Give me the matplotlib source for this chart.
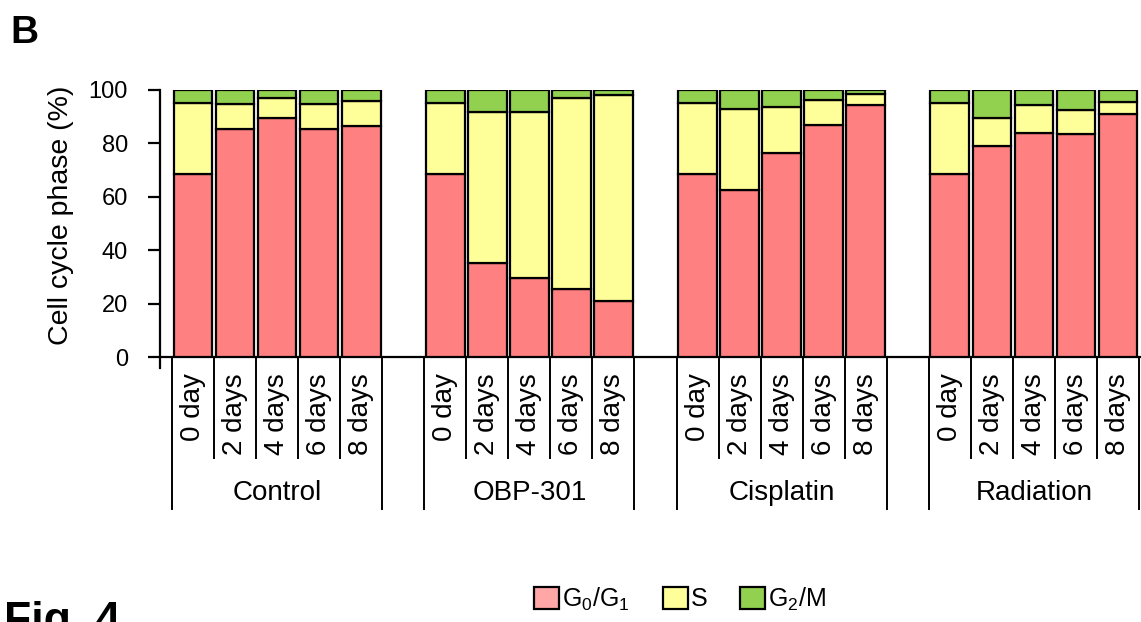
import matplotlib
matplotlib.use("Agg")
import matplotlib.pyplot as plt
import numpy as np
from matplotlib.patches import Patch
from matplotlib.transforms import blended_transform_factory

plt.rcParams["font.family"] = ["Liberation Sans", "DejaVu Sans"]
plt.rcParams["mathtext.fontset"] = "custom"
plt.rcParams["mathtext.rm"] = "Liberation Sans"
plt.rcParams["mathtext.it"] = "Liberation Sans:italic"

days = ["0 day", "2 days", "4 days", "6 days", "8 days"]
groups = ["Control", "OBP-301", "Cisplatin", "Radiation"]

# percent of cells in each phase, one row per treatment
g0g1 = [[68.6, 85.5, 89.5, 85.5, 86.5],
        [68.6, 35.3, 29.7, 25.6, 21.1],
        [68.6, 62.6, 76.5, 87.0, 94.3],
        [68.6, 79.2, 84.0, 83.7, 91.1]]
s_phase = [[26.4, 9.1, 7.4, 9.1, 9.3],
           [26.4, 56.4, 62.0, 71.4, 77.2],
           [26.4, 30.4, 17.3, 9.4, 4.2],
           [26.4, 10.5, 10.4, 8.7, 4.4]]
g2m = [[5.0, 5.4, 3.1, 5.4, 4.2],
       [5.0, 8.3, 8.3, 3.0, 1.7],
       [5.0, 7.0, 6.2, 3.6, 1.5],
       [5.0, 10.3, 5.6, 7.6, 4.5]]

phase_labels = ["G$_0$/G$_1$", "S", "G$_2$/M"]
bar_colors = ["#FF8080", "#FFFF99", "#92D050"]
legend_colors = ["#FFA6A6", "#FFFF99", "#92D050"]

W, H = 1141, 622
fig = plt.figure(figsize=(W / 100, H / 100), dpi=100)
ax = fig.add_axes([160 / W, (H - 357) / H, 981 / W, 267 / H])

nd = len(days)
slot = 6  # five days plus one empty slot between treatments
x = np.array([[gi * slot + di for di in range(nd)] for gi in range(len(groups))])

g0 = np.array(g0g1)
s = np.array(s_phase)
g2 = np.array(g2m)
lw = 1.6
kw = dict(width=0.92, edgecolor="black", linewidth=lw, zorder=3)
ax.bar(x.ravel(), g0.ravel(), color=bar_colors[0], **kw)
ax.bar(x.ravel(), s.ravel(), bottom=g0.ravel(), color=bar_colors[1], **kw)
ax.bar(x.ravel(), g2.ravel(), bottom=(g0 + s).ravel(), color=bar_colors[2], **kw)

ax.set_xlim(-0.5 - 12 / 42.04, x.max() + 0.5 + 2 / 42.04)
ax.set_ylim(0, 100)
ax.set_yticks(range(0, 101, 20))
ax.tick_params(axis="y", direction="out", length=8.6, width=lw, pad=14.4, labelsize=17)
ax.set_xticks([])
for side in ("top", "right"):
    ax.spines[side].set_visible(False)
ax.spines["left"].set_linewidth(lw)
ax.spines["bottom"].set_linewidth(lw)

ax.text(-99 / 981, (357 - 215) / 267, "Cell cycle phase (%)", transform=ax.transAxes,
        rotation=90, ha="center", va="center", fontsize=20.5)

# category axis below the plot: day separators, treatment brackets and labels
tr = blended_transform_factory(ax.transData, ax.transAxes)
px = 1 / 267
ax.plot([-0.5 - 12 / 42.04] * 2, [0, -11 * px], color="black", lw=lw, transform=tr, clip_on=False)
for gi, name in enumerate(groups):
    left = gi * slot - 0.5
    right = left + nd
    for b in range(nd + 1):
        edge = left + b
        bottom = -152 * px if b in (0, nd) else -101 * px
        ax.plot([edge, edge], [0, bottom], color="black", lw=1.4, transform=tr, clip_on=False)
    for di, day in enumerate(days):
        ax.text(x[gi, di], -16 * px, day, transform=tr, rotation=90, ha="center", va="top", fontsize=20)
    ax.text((left + right) / 2, -136 * px, name, transform=tr, ha="center", va="center", fontsize=20)

handles = [Patch(facecolor=c, edgecolor="black", linewidth=lw) for c in legend_colors]
fig.legend(handles, phase_labels, loc="center", bbox_to_anchor=(680 / W, 1 - 599 / H), ncol=3,
           frameon=False, fontsize=18, handlelength=1.0, handleheight=0.95,
           handletextpad=0.12, columnspacing=1.3, borderpad=0)

fig.text(10 / W, 1 - 43 / H, "B", fontsize=28, fontweight="bold", va="baseline", ha="left")
fig.text(4 / W, 1 - 633 / H, "Fig. 4", fontsize=32, fontweight="bold", va="baseline", ha="left")

fig.savefig("out.png", dpi=100, facecolor="white")
